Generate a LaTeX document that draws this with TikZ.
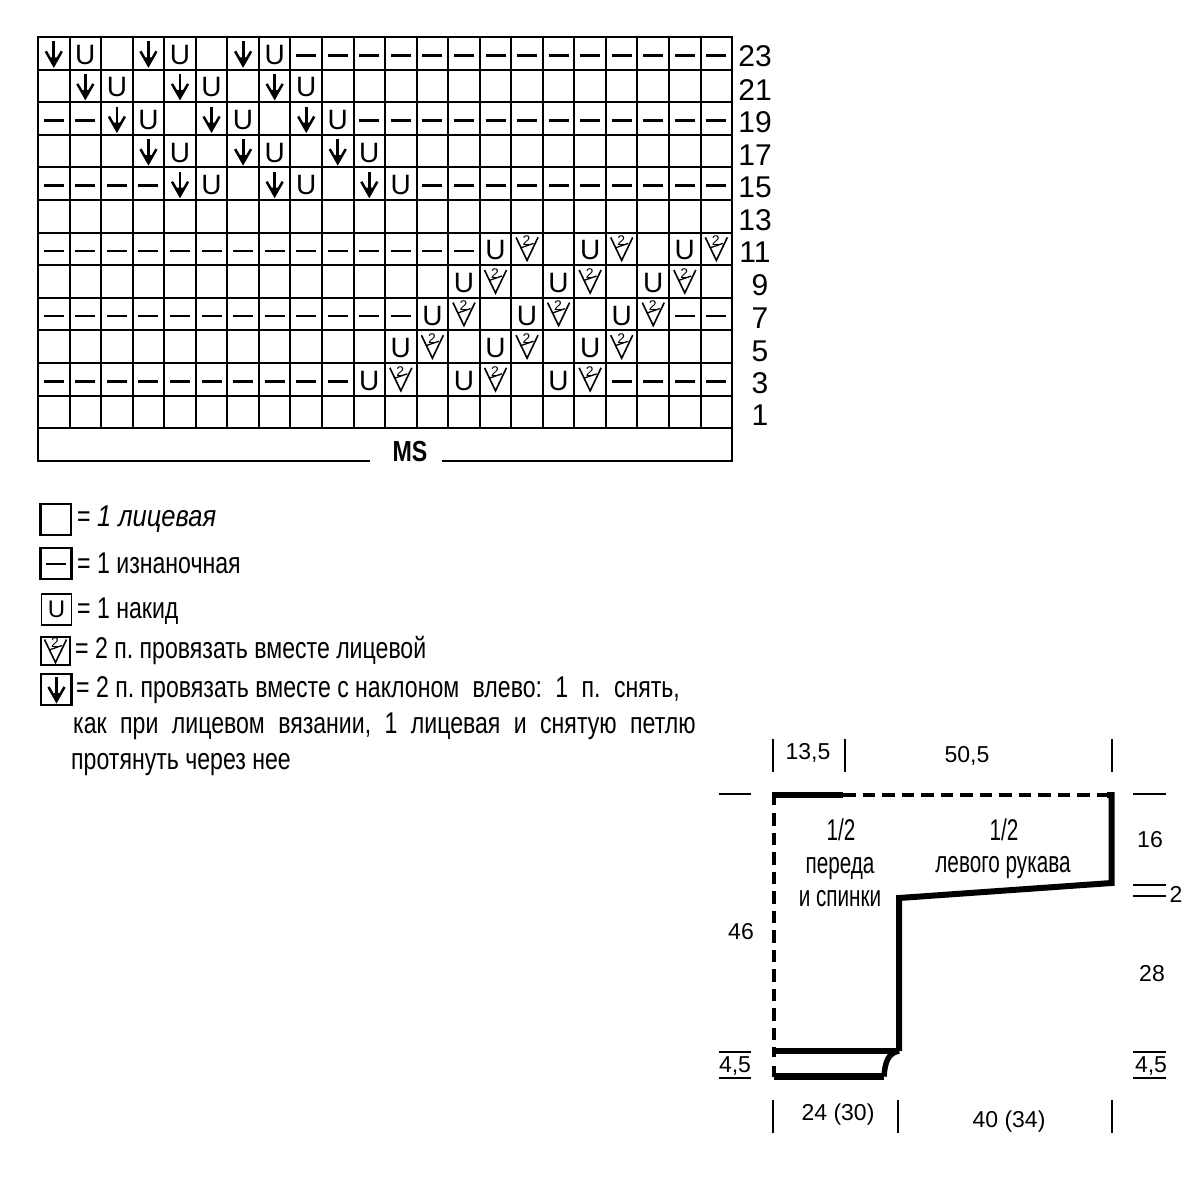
\documentclass[tikz,border=0pt]{standalone}
\usepackage{fontspec}
\setmainfont[FakeStretch=0.77]{Liberation Sans}
\newfontfamily\widefont{Liberation Sans}
\newfontfamily\partfont[FakeStretch=0.69]{Liberation Sans}
\newfontfamily\italfont[FakeStretch=0.85,UprightFont=*-Italic]{Liberation Sans}
\newfontfamily\boldfont[FakeStretch=0.8,UprightFont=*-Bold]{Liberation Sans}
\frenchspacing
\newcounter{symb}
\newcommand{\gap}{\hspace{7pt} }
\tikzset{
  gridline/.style={line width=2pt,black},
  dashsym/.style={line width=2.5pt,black},
  tickthin/.style={line width=1.7pt,black},
  tickthick/.style={line width=2.3pt,black},
  outline/.style={line width=5.5pt,black,line cap=butt},
  dashedout/.style={line width=4pt,black,dash pattern=on 12.8pt off 6.7pt},
  rownum/.style={inner sep=0pt,font=\widefont\fontsize{30}{30}\selectfont},
  legend/.style={anchor=base west,inner sep=0pt,font=\fontsize{30}{30}\selectfont},
  dimlabel/.style={inner sep=0pt,font=\widefont\fontsize{23}{23}\selectfont},
  partlabel/.style={anchor=base,inner sep=0pt,font=\partfont\fontsize{30}{30}\selectfont},
  ulabel/.style={inner sep=0pt,font=\widefont\fontsize{28}{28}\selectfont},
}
% symbols centred at (#1,#2)
\newcommand{\symdash}[2]{\draw[dashsym] (#1-10,#2+2) -- (#1+10,#2+2);}
\newcommand{\symarrow}[2]{%
  \draw[line width=2.8pt] (#1,#2-12) -- (#1,#2+10);
  \draw[line width=2.5pt] (#1-8,#2-2) -- (#1,#2+12) -- (#1+8,#2-2);
  \fill (#1-3.5,#2+4) -- (#1+3.5,#2+4) -- (#1,#2+13.5) -- cycle;}
\newcommand{\symu}[2]{\stepcounter{symb}\node[ulabel] (u\thesymb) at (#1,#2+1.5) {U};}
\newcommand{\symv}[2]{\stepcounter{symb}%
  \draw[line width=1.6pt] (#1-11,#2-11.5) -- (#1,#2+11.5) -- (#1+11,#2-11.5);
  \draw[line width=1.3pt] (#1-6.5,#2-1) -- (#1+6.5,#2-5.5);
  \node[inner sep=0pt,font=\widefont\fontsize{14}{14}\selectfont] (v\thesymb) at (#1-0.5,#2-8) {2};}
% cell helpers: column, row index
\newcommand{\cellD}[2]{\pgfmathsetmacro{\px}{53.8+31.55*#1}\pgfmathsetmacro{\py}{53.3+32.6*#2}\symdash{\px}{\py}}
\newcommand{\cellA}[2]{\pgfmathsetmacro{\px}{53.8+31.55*#1}\pgfmathsetmacro{\py}{53.3+32.6*#2}\symarrow{\px}{\py}}
\newcommand{\cellU}[2]{\pgfmathsetmacro{\px}{53.8+31.55*#1}\pgfmathsetmacro{\py}{53.3+32.6*#2}\symu{\px}{\py}}
\newcommand{\cellV}[2]{\pgfmathsetmacro{\px}{53.8+31.55*#1}\pgfmathsetmacro{\py}{53.3+32.6*#2}\symv{\px}{\py}}
\begin{document}
\begin{tikzpicture}[x=1pt,y=-1pt]
\useasboundingbox (0,0) rectangle (1200,1200);
% chart grid
\foreach \r in {0,...,12} \draw[gridline] (37,{37+32.6*\r}) -- (733,{37+32.6*\r});
\foreach \c in {0,...,22} \draw[gridline] ({38+31.55*\c},37) -- ({38+31.55*\c},428);
\draw[gridline] (38,428) -- (38,460.5) -- (370,460.5);
\draw[gridline] (442,460.5) -- (732,460.5) -- (732,428);
\node[inner sep=0pt,font=\boldfont\fontsize{29}{29}\selectfont] (ms) at (410,452) {MS};
% row numbers
\foreach \n/\px/\py in {23/755/56,21/755/90,19/755/122,17/755/155,15/755/187,13/755/220,11/755/252,9/760/285,7/760/318,5/760/351,3/760/383,1/760/415}
  \node[rownum] (row\n) at (\px,\py) {\n};
% row 23
\foreach \c in {0,3,6} {\cellA{\c}{0}}
\foreach \c in {1,4,7} {\cellU{\c}{0}}
\foreach \c in {8,...,21} {\cellD{\c}{0}}
% row 21
\foreach \c in {1,4,7} {\cellA{\c}{1}}
\foreach \c in {2,5,8} {\cellU{\c}{1}}
% row 19
\foreach \c in {0,1,10,11,12,13,14,15,16,17,18,19,20,21} {\cellD{\c}{2}}
\foreach \c in {2,5,8} {\cellA{\c}{2}}
\foreach \c in {3,6,9} {\cellU{\c}{2}}
% row 17
\foreach \c in {3,6,9} {\cellA{\c}{3}}
\foreach \c in {4,7,10} {\cellU{\c}{3}}
% row 15
\foreach \c in {0,1,2,3,12,13,14,15,16,17,18,19,20,21} {\cellD{\c}{4}}
\foreach \c in {4,7,10} {\cellA{\c}{4}}
\foreach \c in {5,8,11} {\cellU{\c}{4}}
% row 11
\foreach \c in {0,...,13} {\cellD{\c}{6}}
\foreach \c in {14,17,20} {\cellU{\c}{6}}
\foreach \c in {15,18,21} {\cellV{\c}{6}}
% row 9
\foreach \c in {13,16,19} {\cellU{\c}{7}}
\foreach \c in {14,17,20} {\cellV{\c}{7}}
% row 7
\foreach \c in {0,...,11,20,21} {\cellD{\c}{8}}
\foreach \c in {12,15,18} {\cellU{\c}{8}}
\foreach \c in {13,16,19} {\cellV{\c}{8}}
% row 5
\foreach \c in {11,14,17} {\cellU{\c}{9}}
\foreach \c in {12,15,18} {\cellV{\c}{9}}
% row 3
\foreach \c in {0,...,9,18,19,20,21} {\cellD{\c}{10}}
\foreach \c in {10,13,16} {\cellU{\c}{10}}
\foreach \c in {11,14,17} {\cellV{\c}{10}}
% legend
\draw[line width=2.4pt] (40.5,504) rectangle (71,535);
\node[legend] (l1) at (77,526.7) {= {\italfont 1 лицевая}};
\draw[line width=2.4pt] (40.5,548) rectangle (71.5,579);
\symdash{56.3}{562}
\node[legend] (l2) at (77,573) {= 1 изнаночная};
\draw[line width=1.6pt] (41.5,594) rectangle (71.5,625);
\node[inner sep=0pt,font=\widefont\fontsize{24}{24}\selectfont] (u-legend) at (56.5,609) {U};
\node[legend] (l3) at (77,618) {= 1 накид};
\draw[line width=2pt] (41,637) rectangle (70,665);
\symv{55.5}{651}
\node[legend] (l4) at (75,658) {= 2 п. провязать вместе лицевой};
\draw[line width=2.2pt] (41,674) rectangle (71.5,705);
\symarrow{56.5}{689}
\node[legend] (l5) at (76,697) {= 2 п. провязать вместе с наклоном\gap влево:\gap 1\gap п.\gap снять,};
\node[legend] (l6) at (73,733) {как\gap при\gap лицевом\gap вязании,\gap 1\gap лицевая\gap и\gap снятую\gap петлю};
\node[legend] (l7) at (71,769) {протянуть через нее};
% schematic outline
\coordinate (tl) at (773.5,795);
\coordinate (ls) at (773.5,813);
\coordinate (tm) at (843,795);
\coordinate (tr) at (1111.5,795);
\coordinate (rb) at (1111.5,883);
\coordinate (al) at (899,898);
\coordinate (hr) at (899,1051);
\coordinate (hl) at (773.5,1051);
\coordinate (br) at (884,1076.5);
\coordinate (bl) at (773.5,1076.5);
\draw[dashedout] (tm) -- (tr);
\draw[dashedout] (ls) -- (773.5,1040);
\draw[line width=4pt] (tl) -- (773.5,805);
\draw[line width=4pt] (773.5,1047) -- (773.5,1057);
\draw[outline,line join=miter] (771.5,795) -- (tm);
\draw[outline,line width=6pt,line join=miter] (1107,795) -- (tr) -- (rb) -- (al) -- (hr);
\draw[outline,line width=6pt] (hl) -- (hr);
\draw[outline,line width=5.5pt] (hr) .. controls (888,1053) and (885,1062) .. (br);
\draw[outline,line width=6.5pt] (br) -- (bl);
\draw[line width=4pt] (bl) -- (773.5,1066);
% ticks
\draw[tickthin] (773,739) -- (773,772);
\draw[tickthick] (845,739) -- (845,772);
\draw[tickthick] (1112,739) -- (1112,772);
\draw[tickthin] (773,1100) -- (773,1133);
\draw[tickthick] (898,1100) -- (898,1133);
\draw[tickthick] (1112,1100) -- (1112,1133);
\draw[tickthin] (719,794) -- (751,794);
\draw[tickthin] (1133,794) -- (1166,794);
\draw[tickthin] (1133,885) -- (1166,885);
\draw[tickthin] (1133,896) -- (1166,896);
\draw[tickthin] (719,1052) -- (751,1052);
\draw[tickthin] (719,1078) -- (751,1078);
\draw[tickthin] (1133,1052) -- (1166,1052);
\draw[tickthin] (1133,1078) -- (1166,1078);
% dimension labels
\node[dimlabel] (d1) at (808,753) {13,5};
\node[dimlabel] (d2) at (967,756) {50,5};
\node[dimlabel] (d3) at (1150,840) {16};
\node[dimlabel] (d4) at (1176,894) {2};
\node[dimlabel] (d5) at (741,932) {46};
\node[dimlabel] (d6) at (1152,974) {28};
\node[dimlabel] (d7) at (735,1066) {4,5};
\node[dimlabel] (d8) at (1151,1066) {4,5};
\node[dimlabel] (d9) at (838,1115) {24 (30)};
\node[dimlabel] (d10) at (1009,1122) {40 (34)};
% part labels
\node[partlabel] (p1) at (841,840) {1/2};
\node[partlabel] (p2) at (840,873) {переда};
\node[partlabel] (p3) at (840,906.7) {и спинки};
\node[partlabel] (p4) at (1004,840) {1/2};
\node[partlabel] (p5) at (1003,872.7) {левого рукава};
\end{tikzpicture}
\end{document}
